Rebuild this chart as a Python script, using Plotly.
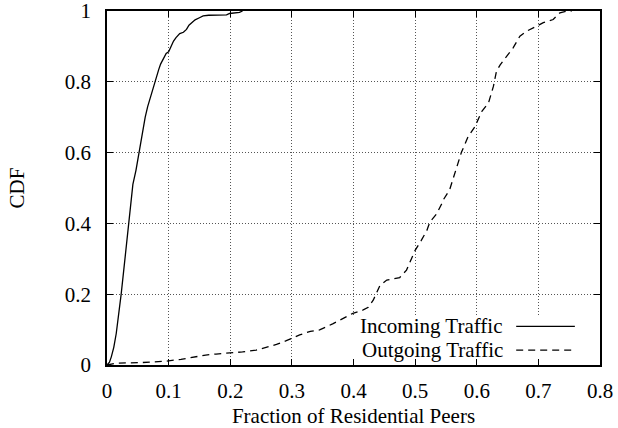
import plotly.graph_objects as go

# ---- data ----
incoming_x = [0, 0.004, 0.007, 0.011, 0.015, 0.019, 0.023, 0.027, 0.031, 0.036, 0.039,
              0.042, 0.047, 0.052, 0.058, 0.062, 0.066, 0.070, 0.074, 0.080, 0.084,
              0.087, 0.092, 0.096, 0.100, 0.104, 0.108, 0.112, 0.118, 0.124, 0.129,
              0.133, 0.137, 0.143, 0.150, 0.156, 0.165, 0.180, 0.194, 0.199, 0.215, 0.220]
incoming_y = [0, 0.008, 0.023, 0.05, 0.089, 0.14, 0.20, 0.265, 0.333, 0.40, 0.45,
              0.51, 0.55, 0.60, 0.67, 0.70, 0.73, 0.755, 0.78, 0.81, 0.835,
              0.85, 0.865, 0.88, 0.885, 0.90, 0.915, 0.925, 0.936, 0.94, 0.948,
              0.96, 0.967, 0.975, 0.981, 0.986, 0.988, 0.989, 0.989, 0.993, 0.996, 1.0]

outgoing_x = [0, 0.015, 0.058, 0.096, 0.12, 0.14, 0.16, 0.177, 0.199, 0.22, 0.242,
              0.26, 0.275, 0.29, 0.3127, 0.33, 0.345, 0.367, 0.383, 0.399, 0.415,
              0.424, 0.432, 0.438, 0.443, 0.454, 0.465, 0.475, 0.486, 0.493, 0.5,
              0.510, 0.519, 0.524, 0.535, 0.543, 0.5455, 0.556, 0.564, 0.575, 0.586,
              0.597, 0.608, 0.619, 0.627, 0.632, 0.638, 0.648, 0.659, 0.670, 0.681,
              0.697, 0.708, 0.724, 0.735, 0.745, 0.754]
outgoing_y = [0, 0.005, 0.007, 0.011, 0.016, 0.023, 0.028, 0.031, 0.033, 0.037, 0.042,
              0.05, 0.058, 0.068, 0.085, 0.095, 0.099, 0.117, 0.131, 0.146, 0.155,
              0.163, 0.183, 0.205, 0.225, 0.24, 0.244, 0.247, 0.268, 0.295, 0.324,
              0.352, 0.38, 0.404, 0.427, 0.455, 0.466, 0.495, 0.54, 0.60, 0.645,
              0.673, 0.716, 0.74, 0.787, 0.83, 0.848, 0.872, 0.896, 0.929, 0.943,
              0.957, 0.967, 0.976, 0.995, 0.999, 1.0]

series_names = ["Incoming Traffic", "Outgoing Traffic"]
x_ticks = [0, 0.1, 0.2, 0.3, 0.4, 0.5, 0.6, 0.7, 0.8]
y_ticks = [0, 0.2, 0.4, 0.6, 0.8, 1]
x_title = "Fraction of Residential Peers"
y_title = "CDF"

FONT = "Liberation Serif"
FS = 21
LW = 1.3
DASH = "7px,5px"

fig = go.Figure()
fig.add_trace(go.Scatter(x=incoming_x, y=incoming_y, mode="lines",
                         line=dict(color="black", width=LW), showlegend=False))
fig.add_trace(go.Scatter(x=outgoing_x, y=outgoing_y, mode="lines",
                         line=dict(color="black", width=LW, dash=DASH), showlegend=False))

# legend box background (hides gridlines, stays under traces)
fig.add_shape(type="rect", xref="x", yref="y",
              x0=0.3864, x1=0.8, y0=0.0, y1=0.136,
              fillcolor="white", line=dict(width=0), layer="between")

# custom legend: text then sample on the right
rows_y = [0.109, 0.042]
dashes = ["solid", DASH]
for name, ry, dsh in zip(series_names, rows_y, dashes):
    fig.add_annotation(xref="paper", yref="paper", x=0.807, y=ry,
                       text=name, showarrow=False, xanchor="right", yanchor="middle",
                       font=dict(family=FONT, size=FS, color="black"))
    fig.add_shape(type="line", xref="paper", yref="paper",
                  x0=0.830, x1=0.949, y0=ry, y1=ry,
                  line=dict(color="black", width=LW, dash=dsh), layer="above")

axis_common = dict(
    showline=True, linecolor="black", linewidth=1.5, mirror="ticks",
    ticks="inside", ticklen=6, tickwidth=1, tickcolor="black",
    showgrid=True, gridcolor="#555555", gridwidth=1, griddash="1px,2px",
    zeroline=False, ticklabeloverflow="allow",
    tickfont=dict(family=FONT, size=FS, color="black"),
)

fig.update_xaxes(range=[0, 0.8], tickvals=x_ticks, ticktext=[f"{v:g}" for v in x_ticks],
                 title=dict(text=x_title, font=dict(family=FONT, size=FS, color="black"),
                            standoff=12),
                 ticklabelstandoff=6, **axis_common)
fig.update_yaxes(range=[0, 1], tickvals=y_ticks, ticktext=[f"{v:g}" for v in y_ticks],
                 title=dict(text=y_title, font=dict(family=FONT, size=FS, color="black"),
                            standoff=34),
                 ticklabelstandoff=10, **axis_common)

fig.update_layout(
    width=618, height=428,
    margin=dict(l=107, r=18, t=11, b=63, autoexpand=False),
    paper_bgcolor="white", plot_bgcolor="white",
    font=dict(family=FONT, size=FS, color="black"),
    showlegend=False,
)

fig.write_html("out.html")
